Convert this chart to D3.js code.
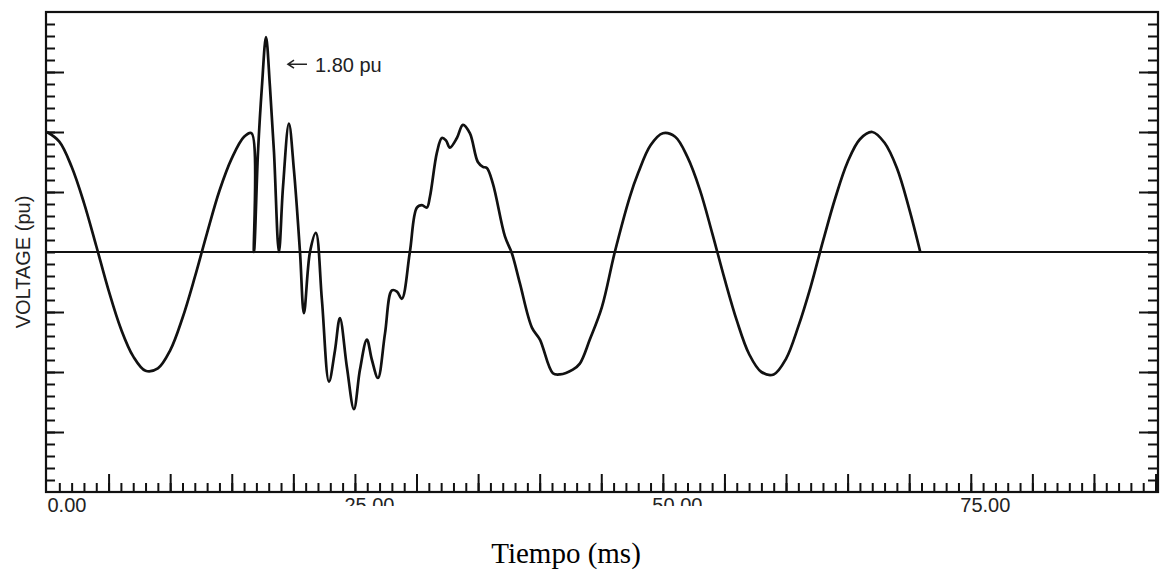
<!DOCTYPE html>
<html>
<head>
<meta charset="utf-8">
<script src="https://cdn.jsdelivr.net/npm/d3@7"></script>
<style>
  html, body { margin: 0; padding: 0; background: #fff; }
  svg { display: block; }
</style>
</head>
<body>
<svg id="chart" width="1169" height="571"></svg>
<script>
// ---- data ----
const timeMs = [
  0, 1, 2, 3, 4, 5, 6, 7, 8, 9, 10, 11, 12, 13, 14, 15, 16, 16.6,
  16.8, 17.13, 17.45, 17.78, 18.10, 18.43, 18.83, 19.16, 19.64, 20.05, 20.54,
  20.86, 21.35, 21.83, 22.32, 22.89, 23.38, 23.78, 24.35, 24.92, 25.41, 25.97,
  26.38, 26.87, 27.44, 28.00, 28.41, 28.81, 29.46, 30.03, 30.44, 30.84, 31.09,
  31.66, 32.06, 32.39, 32.71, 33.28, 33.77, 34.33, 34.98, 35.39, 35.71, 36.20,
  37.18, 37.74, 38.39, 39.37, 40.02, 41.07, 41.64, 42.69, 43.26, 44.07, 45.05,
  46.10, 47.32,
  48, 49, 50, 51, 52, 53, 54, 55, 56, 57, 58, 59, 60, 61, 62, 63, 64, 65, 66,
  67, 68, 69, 70, 70.9
];
const voltagePu = [
  1.00, 0.92, 0.71, 0.41, 0.05, -0.32, -0.64, -0.87, -0.99, -0.97, -0.82, -0.55, -0.21, 0.16, 0.51, 0.78, 0.96, 0.99,
  0.00, 0.83, 1.38, 1.79, 1.38, 0.83, 0.00, 0.54, 1.07, 0.68, 0.00,
  -0.51, 0.00, 0.16, -0.40, -1.08, -0.82, -0.55, -0.96, -1.31, -0.98, -0.73,
  -0.90, -1.05, -0.68, -0.32, -0.33, -0.39, 0.00, 0.37, 0.39, 0.37, 0.46,
  0.83, 0.95, 0.93, 0.87, 0.95, 1.06, 0.99, 0.75, 0.71, 0.70, 0.57,
  0.13, -0.01, -0.26, -0.63, -0.73, -1.01, -1.02, -0.98, -0.93, -0.73, -0.46,
  0.00, 0.46,
  0.66, 0.89, 0.99, 0.96, 0.79, 0.52, 0.16, -0.22, -0.57, -0.85, -1.00, -1.02, -0.89, -0.62, -0.29, 0.09, 0.45, 0.75, 0.94,
  1.00, 0.91, 0.70, 0.36, 0.00
];
const xLabelTicks = [0, 25, 50, 75];
const xMinorTicks = d3.range(1, 91, 1);
const xMajorTicks = d3.range(5, 91, 5);
const yMinorTicks = d3.range(-19, 20, 1).map(d => d / 10);
const yMajorTicks = [-1.5, -1.0, -0.5, 0.5, 1.0, 1.5];
const annotation = { t: 17.78, v: 1.79, label: "1.80 pu" };
const xTitle = "Tiempo (ms)";
const yTitle = "VOLTAGE (pu)";

// ---- layout ----
const L = 46, R = 1158, T = 12, B = 492;
const svg = d3.select("#chart");
const x = d3.scaleLinear().domain([0, 90.2]).range([L + 1, R]);
const y = d3.scaleLinear().domain([-2, 2]).range([B, T]);
const ink = "#111";

function styleAxis(g) {
  g.select(".domain").remove();
  g.selectAll(".tick line").attr("stroke", ink).attr("stroke-width", 2);
  g.selectAll(".tick text").remove();
}

// left ticks (inward)
svg.append("g").attr("transform", `translate(${L},0)`)
  .call(d3.axisLeft(y).tickValues(yMinorTicks).tickSize(-9)).call(styleAxis);
svg.append("g").attr("transform", `translate(${L},0)`)
  .call(d3.axisLeft(y).tickValues(yMajorTicks).tickSize(-18)).call(styleAxis);
// right ticks (inward)
svg.append("g").attr("transform", `translate(${R},0)`)
  .call(d3.axisRight(y).tickValues(yMinorTicks).tickSize(-10)).call(styleAxis);
svg.append("g").attr("transform", `translate(${R},0)`)
  .call(d3.axisRight(y).tickValues(yMajorTicks).tickSize(-19)).call(styleAxis);
// bottom ticks (inward)
svg.append("g").attr("transform", `translate(0,${B})`)
  .call(d3.axisBottom(x).tickValues(xMinorTicks).tickSize(-9)).call(styleAxis);
svg.append("g").attr("transform", `translate(0,${B})`)
  .call(d3.axisBottom(x).tickValues(xMajorTicks).tickSize(-18)).call(styleAxis);

// bottom labels
const xl = svg.append("g").attr("transform", `translate(0,${B})`)
  .call(d3.axisBottom(x).tickValues(xLabelTicks).tickSize(0).tickFormat(d3.format(".2f")));
xl.select(".domain").remove();
xl.selectAll(".tick text")
  .attr("font-family", "'Liberation Sans', Arial, sans-serif")
  .attr("font-size", 20)
  .attr("fill", "#222")
  .attr("text-anchor", "start")
  .attr("dy", null)
  .attr("y", 20)
  .attr("x", d => d === 0 ? 0 : -11);

// white patch that hides the lower part of two labels (as in the reference)
svg.append("rect").attr("x", 237).attr("y", 506).attr("width", 626).attr("height", 30).attr("fill", "#fff");

// frame
svg.append("rect").attr("x", L).attr("y", T).attr("width", R - L).attr("height", B - T)
  .attr("fill", "none").attr("stroke", ink).attr("stroke-width", 2.2);

// zero line
svg.append("line").attr("x1", L).attr("x2", R).attr("y1", y(0)).attr("y2", y(0))
  .attr("stroke", ink).attr("stroke-width", 2.2);

// waveform
const pts = timeMs.map((t, i) => [t, voltagePu[i]]);
svg.append("path").datum(pts)
  .attr("fill", "none").attr("stroke", ink).attr("stroke-width", 2.7)
  .attr("stroke-linejoin", "round")
  .attr("d", d3.line().x(d => x(d[0])).y(d => y(d[1])).curve(d3.curveCatmullRom.alpha(0.5)));

// annotation
const ax = x(annotation.t), ay = y(annotation.v);
const a0 = ax + 22, a1 = ax + 41, aY = ay + 27;
svg.append("path")
  .attr("d", `M${a1},${aY} L${a0},${aY} M${a0 + 6},${aY - 4} L${a0},${aY} L${a0 + 6},${aY + 4}`)
  .attr("fill", "none").attr("stroke", "#222").attr("stroke-width", 1.6);
svg.append("text").attr("x", ax + 49).attr("y", ay + 35)
  .attr("font-family", "'Liberation Sans', Arial, sans-serif").attr("font-size", 20).attr("fill", "#222")
  .text(annotation.label);

// axis titles
svg.append("text").attr("transform", "translate(30,262) rotate(-90)")
  .attr("text-anchor", "middle")
  .attr("font-family", "'Liberation Sans', Arial, sans-serif").attr("font-size", 20).attr("fill", "#222")
  .text(yTitle);
svg.append("text").attr("x", 566).attr("y", 563).attr("text-anchor", "middle")
  .attr("font-family", "'Liberation Serif', 'Times New Roman', serif").attr("font-size", 29).attr("fill", "#000")
  .text(xTitle);
</script>
</body>
</html>
